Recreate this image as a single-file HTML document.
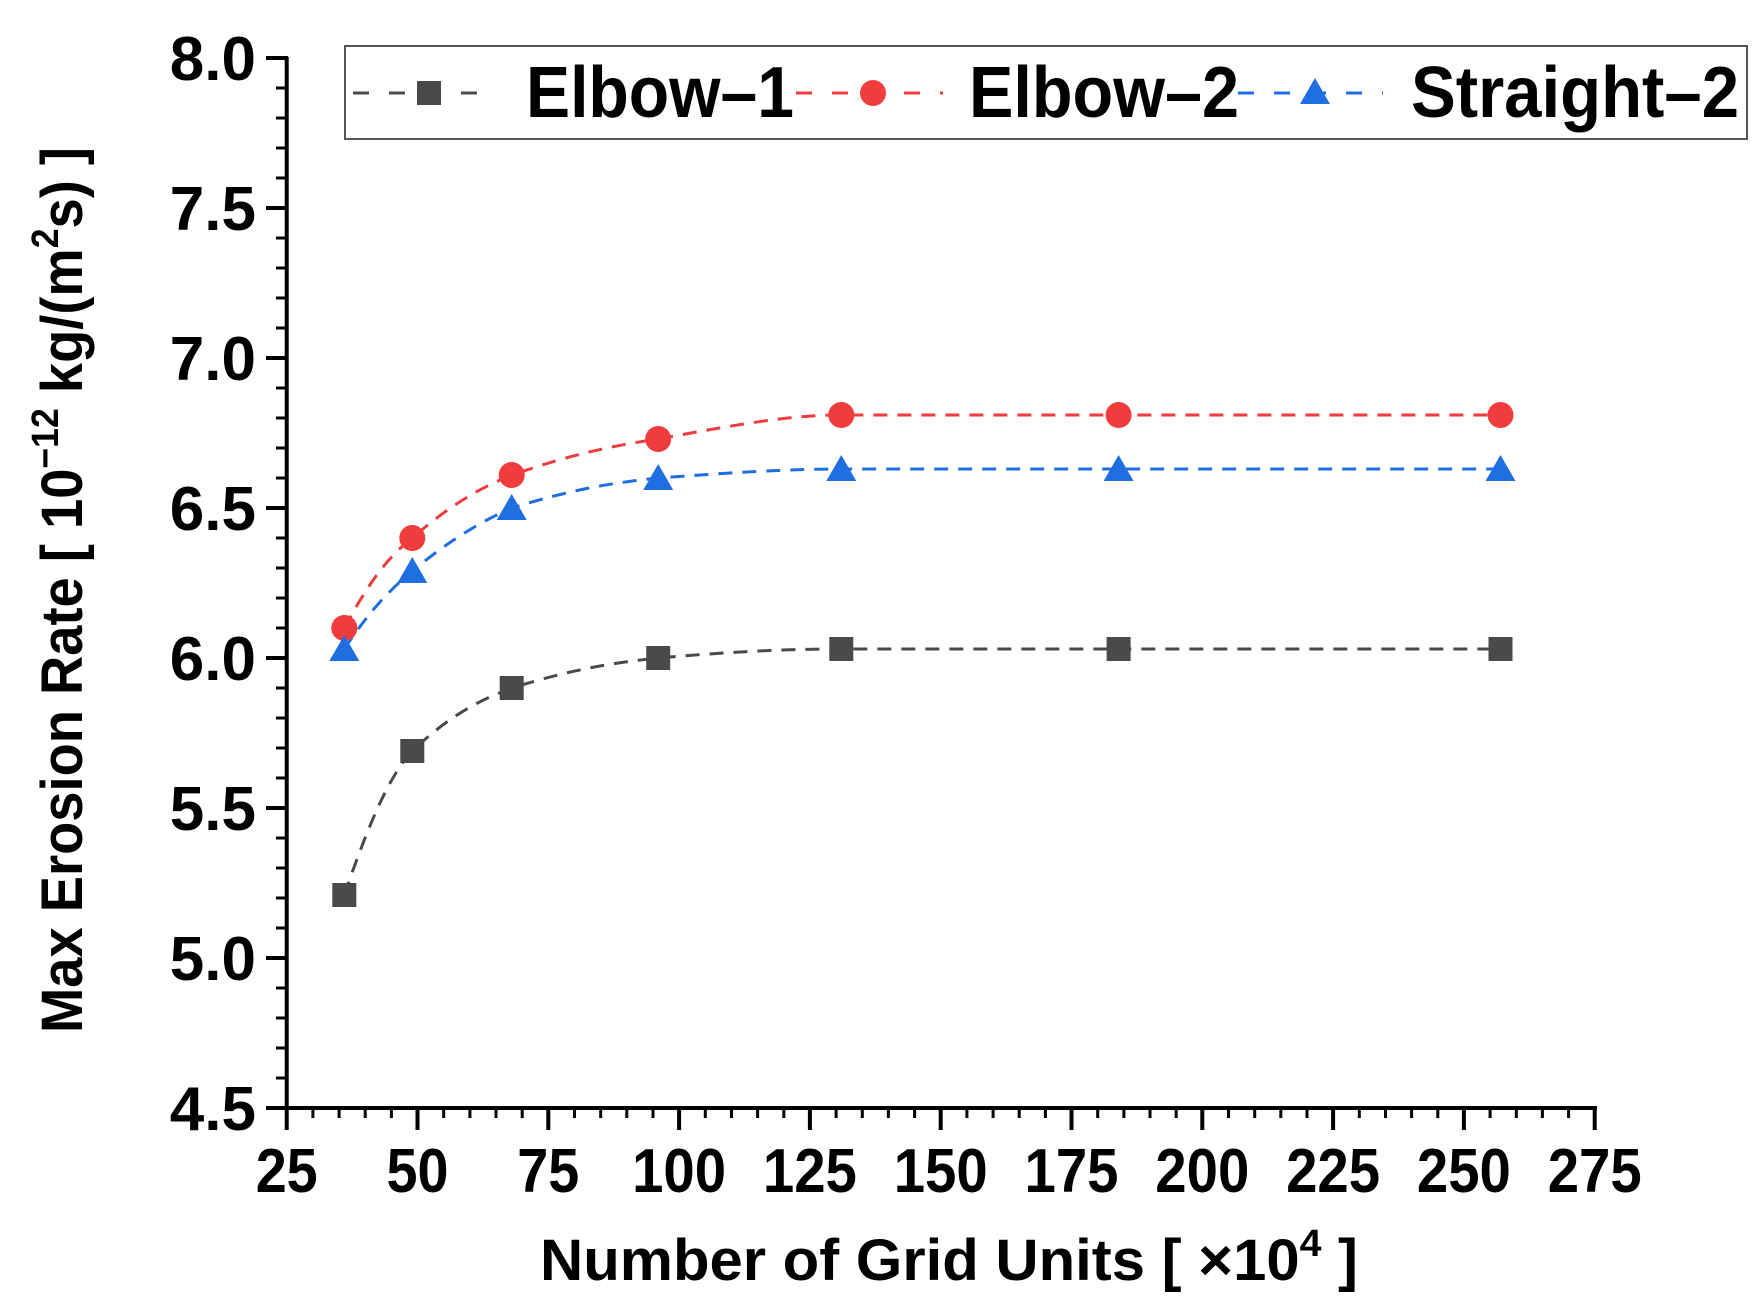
<!DOCTYPE html>
<html><head><meta charset="utf-8"><style>html,body{margin:0;padding:0;background:#fff}svg{display:block}</style></head>
<body>
<svg width="1761" height="1312" viewBox="0 0 1761 1312" xmlns="http://www.w3.org/2000/svg" font-family="Liberation Sans, Arial, sans-serif" font-weight="bold">
<rect width="1761" height="1312" fill="#fff"/>
<g stroke="#000" stroke-width="4" fill="none">
<line x1="286.7" y1="57" x2="286.7" y2="1110"/>
<line x1="285" y1="1108" x2="1597" y2="1108"/>
<path d="M266 58H288M266 208H288M266 358H288M266 508H288M266 658H288M266 808H288M266 958H288M266 1108H288"/>
<path stroke-width="3" d="M276 88H288M276 118H288M276 148H288M276 178H288M276 238H288M276 268H288M276 298H288M276 328H288M276 388H288M276 418H288M276 448H288M276 478H288M276 538H288M276 568H288M276 598H288M276 628H288M276 688H288M276 718H288M276 748H288M276 778H288M276 838H288M276 868H288M276 898H288M276 928H288M276 988H288M276 1018H288M276 1048H288M276 1078H288"/>
<path d="M286.7 1106V1130M417.5 1106V1130M548.3 1106V1130M679.1 1106V1130M809.9 1106V1130M940.7 1106V1130M1071.5 1106V1130M1202.3 1106V1130M1333.1 1106V1130M1463.9 1106V1130M1594.7 1106V1130"/>
</g>
<path stroke="#000" stroke-width="3" d="M312.9 1106v12M339.1 1106v12M365.2 1106v12M391.4 1106v12M443.7 1106v12M469.9 1106v12M496 1106v12M522.2 1106v12M574.5 1106v12M600.7 1106v12M626.8 1106v12M653 1106v12M705.3 1106v12M731.5 1106v12M757.6 1106v12M783.8 1106v12M836.1 1106v12M862.3 1106v12M888.4 1106v12M914.6 1106v12M966.9 1106v12M993.1 1106v12M1019.2 1106v12M1045.4 1106v12M1097.7 1106v12M1123.9 1106v12M1150 1106v12M1176.2 1106v12M1228.5 1106v12M1254.7 1106v12M1280.8 1106v12M1307 1106v12M1359.3 1106v12M1385.5 1106v12M1411.6 1106v12M1437.8 1106v12M1490.1 1106v12M1516.3 1106v12M1542.4 1106v12M1568.6 1106v12"/>
<g font-size="62" text-anchor="end" fill="#000">
<text x="256" y="80">8.0</text><text x="256" y="230">7.5</text><text x="256" y="380">7.0</text><text x="256" y="530">6.5</text><text x="256" y="680">6.0</text><text x="256" y="830">5.5</text><text x="256" y="980">5.0</text><text x="256" y="1130">4.5</text>
</g>
<g font-size="62" text-anchor="middle" fill="#000">
<text x="286.7" y="1192" textLength="62" lengthAdjust="spacingAndGlyphs">25</text>
<text x="417.5" y="1192" textLength="62" lengthAdjust="spacingAndGlyphs">50</text>
<text x="548.3" y="1192" textLength="62" lengthAdjust="spacingAndGlyphs">75</text>
<text x="679.1" y="1192" textLength="94" lengthAdjust="spacingAndGlyphs">100</text>
<text x="809.9" y="1192" textLength="94" lengthAdjust="spacingAndGlyphs">125</text>
<text x="940.7" y="1192" textLength="94" lengthAdjust="spacingAndGlyphs">150</text>
<text x="1071.5" y="1192" textLength="94" lengthAdjust="spacingAndGlyphs">175</text>
<text x="1202.3" y="1192" textLength="94" lengthAdjust="spacingAndGlyphs">200</text>
<text x="1333.1" y="1192" textLength="94" lengthAdjust="spacingAndGlyphs">225</text>
<text x="1463.9" y="1192" textLength="94" lengthAdjust="spacingAndGlyphs">250</text>
<text x="1594.7" y="1192" textLength="94" lengthAdjust="spacingAndGlyphs">275</text>
</g>
<text x="540" y="1280" font-size="58" fill="#000" textLength="818" lengthAdjust="spacingAndGlyphs">Number of Grid Units [ ×10<tspan font-size="38" dy="-24">4</tspan><tspan dy="24"> ]</tspan></text>
<text transform="translate(82,1033) rotate(-90)" x="0" y="0" font-size="58" fill="#000" textLength="886" lengthAdjust="spacingAndGlyphs">Max Erosion Rate [ 10<tspan font-size="38" dy="-24">−12</tspan><tspan dy="24"> kg/(m</tspan><tspan font-size="38" dy="-24">2</tspan><tspan dy="24">s) ]</tspan></text>
<g fill="none" stroke-width="3" stroke-dasharray="14,10">
<path stroke="#4a4a4a" d="M344.3 895C370 820 390 775 412.3 751C450 715 480 700 511.7 688C570 670 610 663 658.2 658C740 651 790 649 841.3 649L1500.5 649"/>
<path stroke="#f03c3c" d="M344.3 628C370 580 390 555 412.3 538C450 505 480 488 511.7 475C570 455 610 446 658.2 439C740 424 790 415 841.3 415L1500.5 415"/>
<path stroke="#1f6fe0" d="M344.3 649C370 610 390 590 412.3 571C450 540 480 522 511.7 508C570 490 610 483 658.2 478C740 472 790 469 841.3 469L1500.5 469"/>
</g>
<g fill="#4a4a4a">
<rect x="332.3" y="883" width="24" height="24"/><rect x="400.3" y="739" width="24" height="24"/><rect x="499.7" y="676" width="24" height="24"/><rect x="646.2" y="646" width="24" height="24"/><rect x="829.3" y="637" width="24" height="24"/><rect x="1106.6" y="637" width="24" height="24"/><rect x="1488.5" y="637" width="24" height="24"/>
</g>
<g fill="#f03c3c">
<circle cx="344.3" cy="628" r="13"/><circle cx="412.3" cy="538" r="13"/><circle cx="511.7" cy="475" r="13"/><circle cx="658.2" cy="439" r="13"/><circle cx="841.3" cy="415" r="13"/><circle cx="1118.6" cy="415" r="13"/><circle cx="1500.5" cy="415" r="13"/>
</g>
<g fill="#1f6fe0">
<path d="M344.3 635l15 26h-30z"/><path d="M412.3 557l15 26h-30z"/><path d="M511.7 494l15 26h-30z"/><path d="M658.2 464l15 26h-30z"/><path d="M841.3 455l15 26h-30z"/><path d="M1118.6 455l15 26h-30z"/><path d="M1500.5 455l15 26h-30z"/>
</g>
<rect x="345" y="46" width="1402" height="93" fill="#fff" stroke="#555" stroke-width="2"/>
<g stroke-width="3" stroke-dasharray="16,20" fill="none">
<line x1="353" y1="93" x2="497" y2="93" stroke="#4a4a4a"/>
<line x1="796" y1="93" x2="943" y2="93" stroke="#f03c3c"/>
<line x1="1238" y1="93" x2="1383" y2="93" stroke="#1f6fe0"/>
</g>
<rect x="417" y="81" width="24" height="24" fill="#4a4a4a"/>
<circle cx="873" cy="93" r="13" fill="#f03c3c"/>
<path d="M1315 78l15 26h-30z" fill="#1f6fe0"/>
<g font-size="72" fill="#000">
<text x="526" y="117" textLength="268" lengthAdjust="spacingAndGlyphs">Elbow–1</text>
<text x="969" y="117" textLength="270" lengthAdjust="spacingAndGlyphs">Elbow–2</text>
<text x="1411" y="117" textLength="328" lengthAdjust="spacingAndGlyphs">Straight–2</text>
</g>
</svg>
</body></html>
